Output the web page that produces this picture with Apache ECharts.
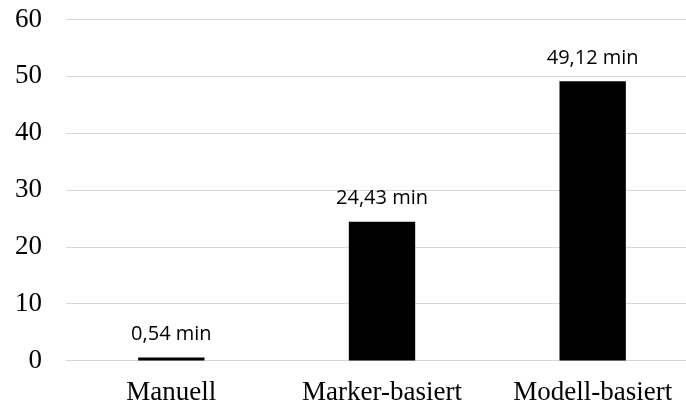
<!DOCTYPE html>
<html>
<head>
<meta charset="utf-8">
<script src="https://cdn.jsdelivr.net/npm/echarts@6/dist/echarts.min.js"></script>
<style>
  html, body { margin: 0; padding: 0; background: #fff; overflow: hidden; width: 686px; height: 407px; }
  /* the plot area runs a little past the right edge of the page */
  #chart { width: 698px; height: 407px; }
</style>
</head>
<body>
<div id="chart"></div>
<script>
// Durchschnittliche Dauer je Verfahren (Minuten)
const categories = ['Manuell', 'Marker-basiert', 'Modell-basiert'];
const durations = [0.54, 24.43, 49.12];
const yMin = 0;
const yMax = 60;
const yStep = 10;

const chart = echarts.init(document.getElementById('chart'), null, { renderer: 'canvas' });

chart.setOption({
  animation: false,
  backgroundColor: '#ffffff',
  grid: { left: 66, top: 19.5, bottom: 46.5, right: 0, containLabel: false },
  xAxis: {
    type: 'category',
    data: categories,
    axisLine: { show: true, lineStyle: { color: '#d9d9d9', width: 1 } },
    axisTick: { show: false },
    axisLabel: {
      color: '#000',
      fontFamily: 'Liberation Serif',
      fontSize: 27,
      margin: 19
    }
  },
  yAxis: {
    type: 'value',
    min: yMin,
    max: yMax,
    interval: yStep,
    axisLine: { show: false },
    axisTick: { show: false },
    splitLine: { lineStyle: { color: '#d9d9d9', width: 1 } },
    axisLabel: {
      color: '#000',
      fontFamily: 'Liberation Serif',
      fontSize: 27,
      margin: 24
    }
  },
  series: [{
    type: 'bar',
    data: durations,
    barWidth: '31.5%',
    itemStyle: { color: '#000000' },
    label: {
      show: true,
      position: 'top',
      distance: 13,
      color: '#000',
      fontFamily: 'Open Sans',
      fontSize: 20,
      formatter: p => p.value.toFixed(2).replace('.', ',') + ' min'
    }
  }]
});
</script>
</body>
</html>
